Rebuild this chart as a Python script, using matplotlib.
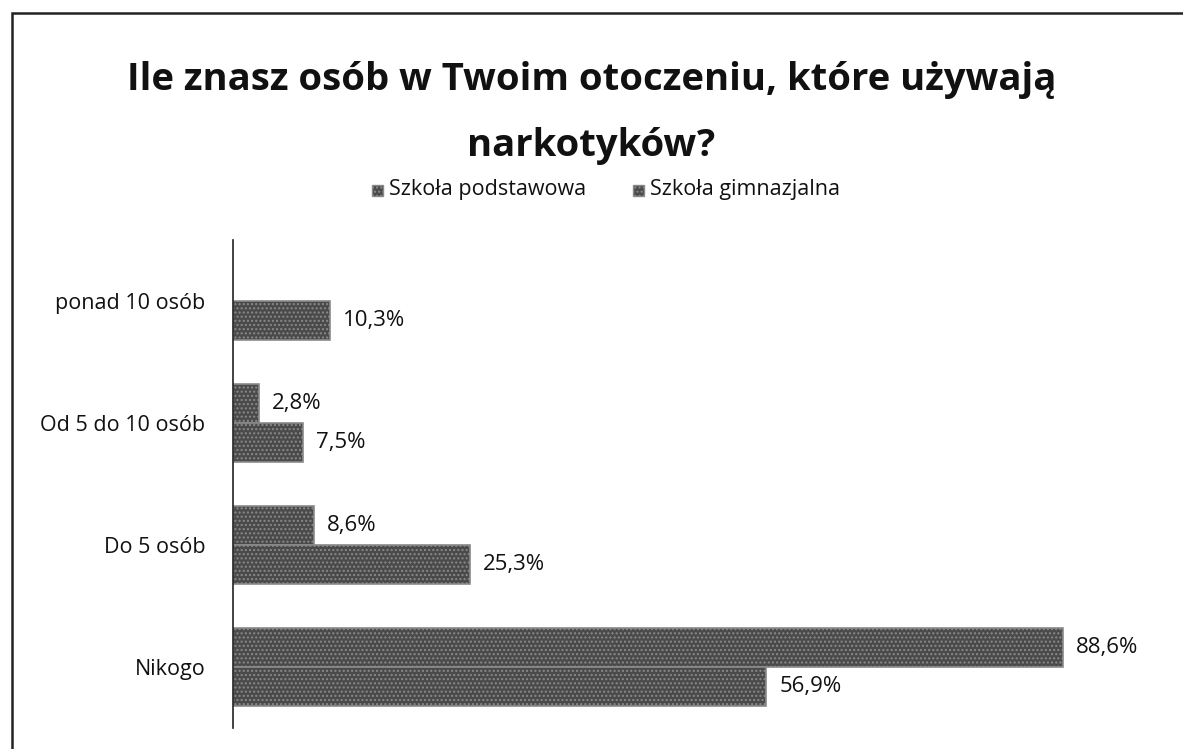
import numpy as np
import matplotlib.pyplot as plt
from matplotlib.patches import Rectangle

# Dane z wykresu (%)
kategorie = ['Nikogo', 'Do 5 osób', 'Od 5 do 10 osób', 'ponad 10 osób']
podstawowa = [88.6, 8.6, 2.8, 0.0]
gimnazjalna = [56.9, 25.3, 7.5, 10.3]
serie = ['Szkoła podstawowa', 'Szkoła gimnazjalna']

plt.rcParams['font.family'] = ['Open Sans', 'DejaVu Sans']
plt.rcParams['hatch.color'] = '#7a7a7a'

W, H = 1183, 749
fig = plt.figure(figsize=(W / 100, H / 100), dpi=100)
fig.patch.set_facecolor('white')

# ramka (widoczna tylko lewa i górna krawędź)
fig.add_artist(Rectangle((12 / W, -0.05), 1.2, 1 - 13 / H + 0.05,
                         transform=fig.transFigure, fill=False,
                         edgecolor='#222222', linewidth=1.8))

# obszar wykresu: 0% przy x=233, ~9.37 px na 1%
x0, x1 = 233, 233 + 9.37 * 100
y_top, y_bot = 240, 728
ax = fig.add_axes([x0 / W, 1 - y_bot / H, (x1 - x0) / W, (y_bot - y_top) / H])

y = np.arange(len(kategorie))
h = 0.32
kolor = '#4a4a4a'
fs = 15.5


def etykieta(v):
    return f'{v:.1f}%'.replace('.', ',')


for i in range(len(kategorie)):
    if podstawowa[i] > 0:
        ax.barh(y[i] + h / 2, podstawowa[i], height=h, color=kolor,
                edgecolor='#8a8a8a', linewidth=1.2, hatch='....')
        ax.text(podstawowa[i] + 1.4, y[i] + h / 2, etykieta(podstawowa[i]),
                va='center', ha='left', fontsize=16, color='#111111')
    ax.barh(y[i] - h / 2, gimnazjalna[i], height=h, color=kolor,
            edgecolor='#8a8a8a', linewidth=1.2, hatch='....')
    ax.text(gimnazjalna[i] + 1.4, y[i] - h / 2, etykieta(gimnazjalna[i]),
            va='center', ha='left', fontsize=16, color='#111111')

ax.set_xlim(0, 100)
ax.set_ylim(-0.5, len(kategorie) - 0.5)
ax.set_yticks(y)
ax.set_yticklabels(kategorie, fontsize=fs, color='#111111')
ax.tick_params(axis='y', length=0, pad=20)
ax.set_xticks([])
for s in ['top', 'right', 'bottom']:
    ax.spines[s].set_visible(False)
ax.spines['left'].set_color('#222222')
ax.spines['left'].set_linewidth(1.2)

# tytuł
fig.text(0.5, 1 - 80 / H, 'Ile znasz osób w Twoim otoczeniu, które używają',
         ha='center', va='center', fontsize=27.5, fontweight='bold', color='#111111')
fig.text(0.5, 1 - 146 / H, 'narkotyków?',
         ha='center', va='center', fontsize=27.5, fontweight='bold', color='#111111')

# legenda
for xs, lab in zip([372, 633], serie):
    fig.add_artist(Rectangle((xs / W, 1 - 196 / H), 11 / W, 11 / H,
                             transform=fig.transFigure, facecolor=kolor,
                             edgecolor='#8a8a8a', hatch='....'))
    fig.text((xs + 17) / W, 1 - 190 / H, lab, ha='left', va='center',
             fontsize=fs, color='#111111')

fig.savefig('out.png', dpi=100)
